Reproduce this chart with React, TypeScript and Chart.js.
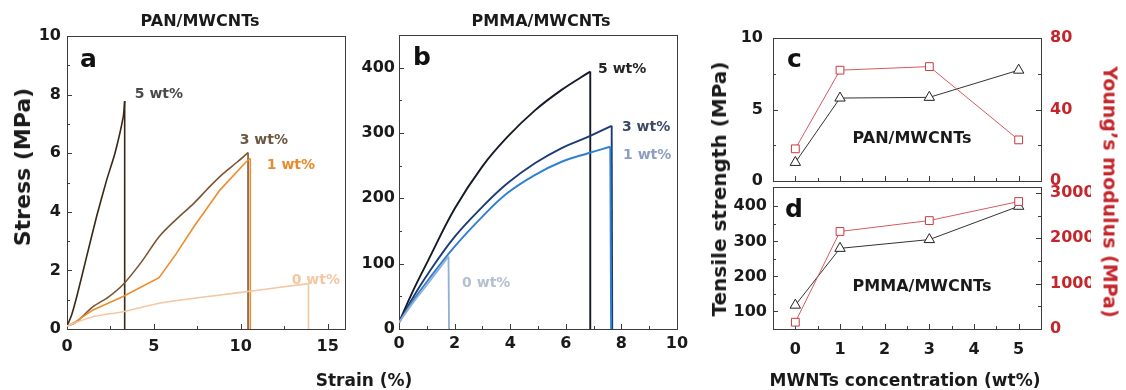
import React, { useEffect, useRef } from "react";
import { Chart, registerables } from "chart.js";
Chart.register(...registerables);

const W = 1126;
const H = 390;
const FONT = "'DejaVu Sans', 'Liberation Sans', Arial, sans-serif";

// ---------- Panel a: PAN/MWCNTs stress-strain ----------
const panStrain0 = [0, 0.5, 1.5, 3.3, 5.3, 8.0, 11.1, 13.9, 13.9];
const panStress0 = [0.1, 0.22, 0.42, 0.6, 0.88, 1.1, 1.33, 1.55, 0];
const panStrain1 = [0, 0.5, 1.5, 3.2, 5.3, 6.3, 7.3, 8.8, 10.3, 10.55, 10.55];
const panStress1 = [0.1, 0.25, 0.65, 1.1, 1.75, 2.58, 3.49, 4.74, 5.7, 5.82, 0];
const panStrain3 = [0, 0.5, 1.5, 2.4, 3.2, 4.3, 5.3, 6.3, 7.3, 8.2, 9.0, 9.8, 10.42, 10.42];
const panStress3 = [0.1, 0.22, 0.76, 1.1, 1.5, 2.3, 3.15, 3.75, 4.29, 4.85, 5.31, 5.7, 6.02, 0];
const panStrain5 = [0, 0.25, 0.56, 1.13, 1.7, 2.28, 2.76, 3.24, 3.32, 3.32];
const panStress5 = [0.1, 0.45, 1.1, 2.47, 3.83, 5.08, 6.0, 7.25, 7.78, 0];

// ---------- Panel b: PMMA/MWCNTs stress-strain ----------
const pmmaStrain0 = [0, 0.5, 1.05, 1.78, 1.8];
const pmmaStress0 = [10, 40, 70, 111, 0];
const pmmaStrain1 = [0, 0.5, 1.05, 2.0, 3.0, 3.9, 4.9, 5.85, 6.8, 7.6, 7.63];
const pmmaStress1 = [10, 43, 75, 126, 172, 208, 236, 256, 269, 279, 0];
const pmmaStrain3 = [0, 0.5, 1.05, 2.0, 3.0, 3.9, 4.9, 5.85, 6.8, 7.65, 7.67];
const pmmaStress3 = [10, 48, 85, 141, 187, 223, 254, 277, 294, 311, 0];
const pmmaStrain5 = [0, 0.5, 1.05, 2.0, 3.0, 3.9, 4.9, 5.85, 6.8, 6.88, 6.88];
const pmmaStress5 = [10, 58, 105, 184, 249, 294, 335, 366, 392, 394, 0];

// ---------- Panels c, d: properties vs concentration ----------
const concentration = [0, 1, 3, 5];
const panTensile = [1.3, 5.8, 5.85, 7.75];
const panModulus = [18, 62, 64, 23];
const pmmaTensile = [118, 280, 305, 400];
const pmmaModulus = [150, 2150, 2390, 2810];

// ---------- Tick values ----------
const aXTicks = [0, 5, 10, 15];
const aXMinor = [2.5, 7.5, 12.5];
const aYTicks = [0, 2, 4, 6, 8, 10];
const aYMinor = [1, 3, 5, 7, 9];
const bXTicks = [0, 2, 4, 6, 8, 10];
const bXMinor = [1, 3, 5, 7, 9];
const bYTicks = [0, 100, 200, 300, 400];
const bYMinor = [50, 150, 250, 350];
const cdXTicks = [0, 1, 2, 3, 4, 5];
const cdXMinor = [0.5, 1.5, 2.5, 3.5, 4.5];
const cYTicks = [0, 5, 10];
const cYMinor = [2.5, 7.5];
const cY2Ticks = [0, 40, 80];
const cY2Minor = [20, 60];
const dYTicks = [100, 200, 300, 400];
const dYMinor = [150, 250, 350];
const dY2Ticks = [0, 1000, 2000, 3000];
const dY2Minor = [500, 1500, 2500];

const toXY = (xs: number[], ys: number[]) => xs.map((x, i) => ({ x, y: ys[i] }));

type TickSpec = { scale: string; side: "bottom" | "left" | "right"; major: number[]; minor: number[] };
type TextSpec = {
  text: string; x: number; y: number; color: string; size: number;
  align?: CanvasTextAlign; baseline?: CanvasTextBaseline; data?: boolean; yScale?: string;
};

function deco(ticks: TickSpec[], texts: TextSpec[]) {
  return {
    id: "deco",
    beforeDatasetsDraw(chart: any) {
      const { ctx, chartArea: a } = chart;
      ctx.save();
      ctx.strokeStyle = "#3c3c3c";
      ctx.lineWidth = 1;
      ctx.strokeRect(Math.round(a.left) + 0.5, Math.round(a.top) + 0.5, Math.round(a.right - a.left), Math.round(a.bottom - a.top));
      for (const t of ticks) {
        const s = chart.scales[t.scale];
        const draw = (v: number, len: number) => {
          const p = Math.round(s.getPixelForValue(v)) + 0.5;
          ctx.beginPath();
          if (t.side === "bottom") { ctx.moveTo(p, a.bottom); ctx.lineTo(p, a.bottom - len); }
          else if (t.side === "left") { ctx.moveTo(a.left, p); ctx.lineTo(a.left + len, p); }
          else { ctx.moveTo(a.right, p); ctx.lineTo(a.right - len, p); }
          ctx.stroke();
        };
        t.major.forEach((v) => draw(v, 5));
        t.minor.forEach((v) => draw(v, 3));
      }
      ctx.restore();
    },
    afterDatasetsDraw(chart: any) {
      const { ctx, chartArea: a } = chart;
      ctx.save();
      for (const t of texts) {
        let px: number, py: number;
        if (t.data) {
          px = chart.scales.x.getPixelForValue(t.x);
          py = chart.scales[t.yScale || "y"].getPixelForValue(t.y);
        } else {
          px = a.left + t.x;
          py = a.top + t.y;
        }
        ctx.font = `bold ${t.size}px ${FONT}`;
        ctx.fillStyle = t.color;
        ctx.textAlign = t.align || "left";
        ctx.textBaseline = t.baseline || "middle";
        ctx.fillText(t.text, px, py);
      }
      ctx.restore();
    },
  };
}

const tickFont = { family: FONT, size: 16, weight: "bold" as const };

function axis(min: number, max: number, vals: number[], opts: any = {}) {
  const { fit, color = "#1a1a1a", padding = 6, display = true, position } = opts;
  const o: any = {
    type: "linear",
    min,
    max,
    display,
    grid: { display: false, drawTicks: false, tickLength: 0 },
    border: { display: false },
    ticks: {
      color,
      padding,
      font: tickFont,
      autoSkip: false,
      maxRotation: 0,
      callback: (v: any) => String(v),
    },
    afterBuildTicks: (s: any) => { s.ticks = vals.map((v) => ({ value: v })); },
  };
  if (position) o.position = position;
  if (fit) o.afterFit = fit;
  return o;
}

const baseOptions = (padding: any, scales: any) => ({
  animation: false,
  responsive: false,
  devicePixelRatio: 1,
  layout: { padding },
  plugins: { legend: { display: false }, tooltip: { enabled: false }, title: { display: false } },
  scales,
});

// a stress-strain curve: smooth (or straight) rising part + vertical break line
function curve(xs: number[], ys: number[], color: string, width: number, tension: number) {
  const n = xs.length;
  const rise = {
    data: toXY(xs.slice(0, n - 1), ys.slice(0, n - 1)),
    showLine: true,
    borderColor: color,
    borderWidth: width,
    pointRadius: 0,
    tension,
    fill: false,
  };
  const drop = {
    data: toXY(xs.slice(n - 2), ys.slice(n - 2)),
    showLine: true,
    borderColor: color,
    borderWidth: width,
    pointRadius: 0,
    tension: 0,
    fill: false,
  };
  return [rise, drop];
}

function configA() {
  return {
    type: "scatter",
    data: {
      datasets: [
        ...curve(panStrain0, panStress0, "#f3c7a2", 1.6, 0.3),
        ...curve(panStrain1, panStress1, "#ee8c2c", 1.6, 0),
        ...curve(panStrain3, panStress3, "#7a5632", 1.6, 0.3),
        ...curve(panStrain5, panStress5, "#3a2816", 1.6, 0.2),
      ],
    },
    options: baseOptions(
      { left: 0, right: W - 345, top: 36, bottom: 0 },
      {
        x: axis(0, 16, aXTicks, { padding: 8, fit: (s: any) => { s.height = H - 329; } }),
        y: axis(0, 10, aYTicks, { padding: 6, fit: (s: any) => { s.width = 67; } }),
      }
    ),
    plugins: [
      deco(
        [
          { scale: "x", side: "bottom", major: aXTicks, minor: aXMinor },
          { scale: "y", side: "left", major: aYTicks, minor: aYMinor },
        ],
        [
          { text: "a", x: 13, y: 31, color: "#111", size: 25, baseline: "alphabetic" },
          { text: "5 wt%", x: 3.9, y: 8.0, color: "#4a4a4a", size: 14, data: true },
          { text: "3 wt%", x: 9.94, y: 6.45, color: "#6b5842", size: 14, data: true },
          { text: "1 wt%", x: 11.5, y: 5.6, color: "#e8892b", size: 14, data: true },
          { text: "0 wt%", x: 12.93, y: 1.67, color: "#f4c7a3", size: 14, data: true },
        ]
      ),
    ],
  };
}

function configB() {
  return {
    type: "scatter",
    data: {
      datasets: [
        ...curve(pmmaStrain0, pmmaStress0, "#92afd4", 1.8, 0.4),
        ...curve(pmmaStrain1, pmmaStress1, "#2f80d2", 1.9, 0.4),
        ...curve(pmmaStrain3, pmmaStress3, "#1c3a74", 1.9, 0.4),
        ...curve(pmmaStrain5, pmmaStress5, "#141a26", 1.9, 0.4),
      ],
    },
    options: baseOptions(
      { left: 399 - 50, right: W - 677, top: 35, bottom: 0 },
      {
        x: axis(0, 10, bXTicks, { padding: 5, fit: (s: any) => { s.height = H - 329; } }),
        y: axis(0, 450, bYTicks, { padding: 4, fit: (s: any) => { s.width = 50; } }),
      }
    ),
    plugins: [
      deco(
        [
          { scale: "x", side: "bottom", major: bXTicks, minor: bXMinor },
          { scale: "y", side: "left", major: bYTicks, minor: bYMinor },
        ],
        [
          { text: "b", x: 14, y: 30, color: "#111", size: 25, baseline: "alphabetic" },
          { text: "5 wt%", x: 7.16, y: 398, color: "#262626", size: 14, data: true },
          { text: "3 wt%", x: 8.02, y: 308, color: "#3d4a66", size: 14, data: true },
          { text: "1 wt%", x: 8.06, y: 266, color: "#8d9fc0", size: 14, data: true },
          { text: "0 wt%", x: 2.27, y: 70, color: "#b5bfd2", size: 14, data: true },
        ]
      ),
    ],
  };
}

const markerSet = (ys: number[], axisId: string, kind: "triangle" | "rect") => ({
  data: toXY(concentration, ys),
  yAxisID: axisId,
  showLine: true,
  borderColor: kind === "triangle" ? "#333333" : "#d65a60",
  borderWidth: 1,
  pointStyle: kind,
  pointRadius: kind === "triangle" ? 6 : 5.5,
  pointBorderWidth: 1,
  pointBorderColor: kind === "triangle" ? "#222222" : "#c83a3e",
  pointBackgroundColor: "#ffffff",
  tension: 0,
  fill: false,
});

function configC() {
  return {
    type: "scatter",
    data: {
      datasets: [markerSet(panModulus, "y2", "rect"), markerSet(panTensile, "y", "triangle")],
    },
    options: baseOptions(
      { left: 773 - 50, right: W - 1041 - 50, top: 38, bottom: H - 181 },
      {
        x: axis(-0.5, 5.5, cdXTicks, { display: false }),
        y: axis(0, 10, cYTicks, { padding: 10, fit: (s: any) => { s.width = 50; } }),
        y2: axis(0, 80, cY2Ticks, { padding: 9, color: "#c4262c", position: "right", fit: (s: any) => { s.width = 50; } }),
      }
    ),
    plugins: [
      deco(
        [
          { scale: "x", side: "bottom", major: cdXTicks, minor: cdXMinor },
          { scale: "y", side: "left", major: cYTicks, minor: cYMinor },
          { scale: "y2", side: "right", major: cY2Ticks, minor: cY2Minor },
        ],
        [
          { text: "c", x: 14, y: 29, color: "#111", size: 25, baseline: "alphabetic" },
          { text: "PAN/MWCNTs", x: 139, y: 101, color: "#1a1a1a", size: 16, align: "center" },
        ]
      ),
    ],
  };
}

function configD() {
  return {
    type: "scatter",
    data: {
      datasets: [markerSet(pmmaModulus, "y2", "rect"), markerSet(pmmaTensile, "y", "triangle")],
    },
    options: baseOptions(
      { left: 773 - 50, right: W - 1041 - 50, top: 187, bottom: 0 },
      {
        x: axis(-0.5, 5.5, cdXTicks, { padding: 11, fit: (s: any) => { s.height = H - 329; } }),
        y: axis(50, 455, dYTicks, { padding: 6, fit: (s: any) => { s.width = 50; } }),
        y2: axis(0, 3130, dY2Ticks, { padding: 9, color: "#c4262c", position: "right", fit: (s: any) => { s.width = 50; } }),
      }
    ),
    plugins: [
      deco(
        [
          { scale: "x", side: "bottom", major: cdXTicks, minor: cdXMinor },
          { scale: "y", side: "left", major: dYTicks, minor: dYMinor },
          { scale: "y2", side: "right", major: dY2Ticks, minor: dY2Minor },
        ],
        [
          { text: "d", x: 12, y: 30, color: "#111", size: 25, baseline: "alphabetic" },
          { text: "PMMA/MWCNTs", x: 149, y: 100, color: "#1a1a1a", size: 16, align: "center" },
        ]
      ),
    ],
  };
}

function ChartCanvas({ build }: { build: () => any }) {
  const ref = useRef<HTMLCanvasElement>(null);
  useEffect(() => {
    const chart = new Chart(ref.current as HTMLCanvasElement, build());
    return () => chart.destroy();
  }, []);
  return (
    <canvas
      ref={ref}
      width={W}
      height={H}
      style={{ position: "absolute", left: 0, top: 0, width: W, height: H }}
    />
  );
}

const label = (
  text: string,
  cx: number,
  cy: number,
  size: number,
  rotate = 0,
  color = "#1a1a1a"
) => (
  <div
    style={{
      position: "absolute",
      left: cx,
      top: cy,
      transform: `translate(-50%, -50%) rotate(${rotate}deg)`,
      fontFamily: FONT,
      fontWeight: "bold",
      fontSize: size,
      lineHeight: 1,
      whiteSpace: "nowrap",
      color,
    }}
  >
    {text}
  </div>
);

export default function App() {
  return (
    <div style={{ position: "absolute", left: 0, top: 0, width: W, height: H, background: "#ffffff", overflow: "hidden" }}>
      <ChartCanvas build={configA} />
      <ChartCanvas build={configB} />
      <ChartCanvas build={configC} />
      <ChartCanvas build={configD} />
      {label("PAN/MWCNTs", 200, 21, 16)}
      {label("PMMA/MWCNTs", 541, 21, 16)}
      {label("Strain (%)", 364, 380, 17)}
      {label("MWNTs concentration (wt%)", 905, 380, 17)}
      {label("Stress (MPa)", 23, 167, 22, -90)}
      {label("Tensile strength (MPa)", 719, 189, 20, -90)}
      {label("Young\u2019s modulus (MPa)", 1110, 192, 19, 90, "#c4262c")}
    </div>
  );
}
